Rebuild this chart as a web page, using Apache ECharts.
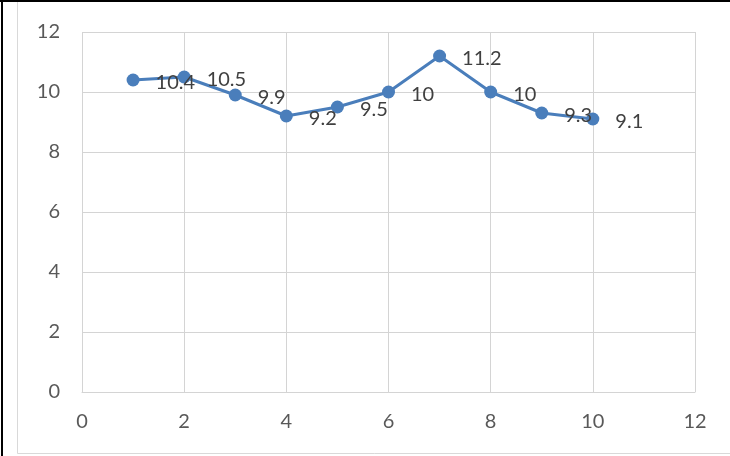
<!DOCTYPE html>
<html>
<head>
<meta charset="utf-8">
<script src="https://cdn.jsdelivr.net/npm/echarts@6/dist/echarts.min.js"></script>
<style>
  html, body { margin: 0; padding: 0; background: #fff; }
  #chart { width: 730px; height: 456px; }
</style>
</head>
<body>
<div id="chart"></div>
<script>
// Measurements along the run
const xValues = [1, 2, 3, 4, 5, 6, 7, 8, 9, 10];
const yValues = [10.4, 10.5, 9.9, 9.2, 9.5, 10, 11.2, 10, 9.3, 9.1];
const xTicks = [0, 2, 4, 6, 8, 10, 12];
const yTicks = [0, 2, 4, 6, 8, 10, 12];

const points = xValues.map((x, i) => [x, yValues[i]]);
const font = 'Lato, "Open Sans", sans-serif';

const chart = echarts.init(document.getElementById('chart'), null, { renderer: 'canvas' });
chart.setOption({
  animation: false,
  backgroundColor: '#ffffff',
  grid: { left: 82, right: 35, top: 32, bottom: 64 },
  xAxis: {
    type: 'value',
    min: xTicks[0],
    max: xTicks[xTicks.length - 1],
    interval: 2,
    axisLine: { show: true, lineStyle: { color: '#d4d4d4', width: 1 } },
    axisTick: { show: false },
    splitLine: { show: true, lineStyle: { color: '#d4d4d4', width: 1 } },
    axisLabel: { color: '#595959', fontSize: 20, fontFamily: font, margin: 20 }
  },
  yAxis: {
    type: 'value',
    min: yTicks[0],
    max: yTicks[yTicks.length - 1],
    interval: 2,
    axisLine: { show: false },
    axisTick: { show: false },
    splitLine: { show: true, lineStyle: { color: '#d4d4d4', width: 1 } },
    axisLabel: { color: '#595959', fontSize: 20, fontFamily: font, margin: 22 }
  },
  series: [{
    type: 'line',
    data: points,
    symbol: 'circle',
    symbolSize: 13,
    itemStyle: { color: '#4a7ebb' },
    lineStyle: { color: '#4a7ebb', width: 3 },
    label: {
      show: true,
      position: 'right',
      distance: 16,
      offset: [0, 3],
      color: '#404040',
      fontSize: 20,
      fontFamily: font,
      formatter: p => String(p.value[1])
    },
    z: 3
  }],
  graphic: [
    { type: 'rect', shape: { x: 17.5, y: 1.5, width: 740, height: 452 },
      style: { fill: 'none', stroke: '#d9d9d9', lineWidth: 1 }, silent: true },
    { type: 'line', shape: { x1: 0, y1: 1, x2: 730, y2: 1 },
      style: { stroke: '#000', lineWidth: 2 }, silent: true },
    { type: 'line', shape: { x1: 2, y1: 0, x2: 2, y2: 456 },
      style: { stroke: '#000', lineWidth: 2 }, silent: true }
  ]
});
</script>
</body>
</html>
